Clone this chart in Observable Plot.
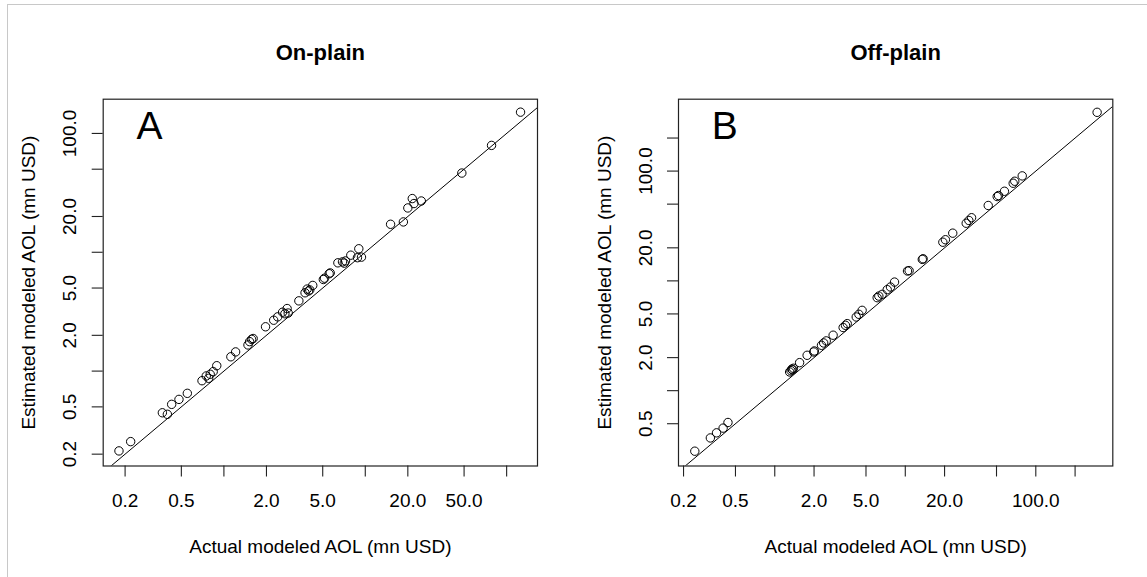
<!DOCTYPE html>
<html><head><meta charset="utf-8">
<script src="https://cdn.jsdelivr.net/npm/d3@7"></script>
<script src="https://cdn.jsdelivr.net/npm/@observablehq/plot@0.6"></script>
<style>
body{margin:0;background:#fff;}
#root{position:relative;width:1147px;height:577px;overflow:hidden;background:#fff;font-family:"Liberation Sans",Arial,sans-serif;}
#border{position:absolute;left:7px;top:4px;width:1300px;height:800px;border-left:1.5px solid #c8c8c8;border-top:1.5px solid #c8c8c8;}
.panel{position:absolute;top:0;}
</style></head><body><div id="root"><div id="border"></div></div>
<script>
// Panel A (On-plain): actual vs estimated
const onActual = [0.181,0.219,0.367,0.398,0.427,0.481,0.551,0.70,0.75,0.78,0.80,0.84,0.89,1.12,1.21,1.48,1.52,1.57,1.61,1.97,2.25,2.40,2.60,2.70,2.80,2.85,3.39,3.75,3.88,3.97,4.05,4.25,5.05,5.15,5.55,5.65,6.40,6.90,7.10,7.25,7.90,8.80,9.00,9.40,15.1,18.6,20.0,21.5,22.1,24.9,48.2,78.2,125.4];
const onEstimated = [0.213,0.255,0.446,0.433,0.525,0.578,0.650,0.83,0.91,0.87,0.94,0.99,1.11,1.32,1.45,1.66,1.77,1.85,1.88,2.36,2.68,2.86,3.13,3.04,3.36,3.08,3.90,4.56,4.90,4.72,4.82,5.26,5.90,6.05,6.60,6.70,8.15,8.30,8.10,8.45,9.45,9.00,10.7,9.10,17.2,18.0,23.6,28.3,25.7,27.0,46.4,79.3,151];
// Panel B (Off-plain)
const offActual = [0.244,0.321,0.358,0.402,0.438,1.30,1.33,1.35,1.37,1.39,1.55,1.77,1.99,2.01,2.28,2.37,2.48,2.80,3.34,3.48,3.59,4.21,4.41,4.67,6.09,6.27,6.65,7.27,7.70,8.27,10.4,10.7,13.5,13.7,19.4,20.3,23.1,29.3,30.7,32.2,43.2,50.6,51.8,57.5,67.1,69.0,78.7,295];
const offEstimated = [0.281,0.371,0.413,0.456,0.513,1.48,1.52,1.57,1.55,1.60,1.80,2.10,2.25,2.30,2.59,2.72,2.84,3.20,3.76,3.94,4.08,4.69,4.96,5.39,7.03,7.27,7.54,8.32,8.79,9.75,12.3,12.4,15.7,15.9,22.5,23.7,27.2,33.5,35.5,37.6,48.6,58.6,59.9,65.5,77.5,80.8,90.4,343];

const onXTicks = [0.2,0.5,1,2,5,10,20,50,100];
const onXLabels = [0.2,0.5,2,5,20,50];
const onYTicks = [0.2,0.5,1,2,5,10,20,50,100];
const onYLabels = [0.2,0.5,2,5,20,100];
const offXTicks = [0.2,0.5,1,2,5,10,20,50,100,200];
const offXLabels = [0.2,0.5,2,5,20,100];
const offYTicks = [0.5,1,2,5,10,20,50,100,200];
const offYLabels = [0.5,2,5,20,100];

const onXDomain = [0.140,165.3];
const onYDomain = [0.159,194.1];
const offXDomain = [0.183,389];
const offYDomain = [0.206,451.6];

const refLine = [0.01,1000]; // 1:1 line
const xTitle = "Actual modeled AOL (mn USD)";
const yTitle = "Estimated modeled AOL (mn USD)";

const fmt = d => d.toFixed(1);
const FONT = "Liberation Sans, Arial, sans-serif";

function panel({title, letter, xs, ys, xDomain, yDomain, xTicks, xLabels, yTicks, yLabels, width, ml, mr}) {
  const pts = xs.map((x, i) => ({x, y: ys[i]}));
  const T = {fill: "black", textAnchor: "middle", lineAnchor: "middle"};
  return Plot.plot({
    width, height: 577,
    marginLeft: ml, marginRight: mr, marginTop: 98.7, marginBottom: 111.5,
    style: {fontFamily: FONT, background: "transparent", color: "black", overflow: "visible"},
    x: {type: "log", domain: xDomain},
    y: {type: "log", domain: yDomain},
    marks: [
      Plot.line(refLine.map(v => ({v})), {x: "v", y: "v", stroke: "black", strokeWidth: 1, clip: true}),
      Plot.dot(pts, {x: "x", y: "y", r: 4.2, stroke: "black", strokeWidth: 1, fill: "none"}),
      Plot.frame({stroke: "#222", strokeWidth: 1.2}),
      Plot.axisX({ticks: xTicks, tickSize: 11, fill: "none", stroke: "#222", strokeWidth: 1.1, label: null, anchor: "bottom"}),
      Plot.axisY({ticks: yTicks, tickSize: 11, fill: "none", stroke: "#222", strokeWidth: 1.1, label: null, anchor: "left"}),
      Plot.text(xLabels, {x: d => d, text: fmt, frameAnchor: "bottom", dy: 35, fontSize: 19, ...T}),
      Plot.text(yLabels, {y: d => d, text: fmt, frameAnchor: "left", dx: -33, rotate: -90, fontSize: 19, ...T}),
      Plot.text([xTitle], {frameAnchor: "bottom", dy: 81, fontSize: 19, ...T}),
      Plot.text([yTitle], {frameAnchor: "left", dx: -74, rotate: -90, fontSize: 19, ...T}),
      Plot.text([title], {frameAnchor: "top", dy: -46.2, fontSize: 22, fontWeight: "bold", ...T}),
      Plot.text([letter], {frameAnchor: "top-left", dx: 33.3, dy: 27.3, fontSize: 39, ...T, textAnchor: "start"})
    ]
  });
}

const root = document.getElementById("root");
const a = panel({title: "On-plain", letter: "A", xs: onActual, ys: onEstimated, xDomain: onXDomain, yDomain: onYDomain,
  xTicks: onXTicks, xLabels: onXLabels, yTicks: onYTicks, yLabels: onYLabels, width: 573, ml: 102.7, mr: 36});
a.classList.add("panel"); a.style.left = "0px";
root.appendChild(a);
const b = panel({title: "Off-plain", letter: "B", xs: offActual, ys: offEstimated, xDomain: offXDomain, yDomain: offYDomain,
  xTicks: offXTicks, xLabels: offXLabels, yTicks: offYTicks, yLabels: offYLabels, width: 574, ml: 105, mr: 34.7});
b.classList.add("panel"); b.style.left = "573px";
root.appendChild(b);
</script></body></html>
